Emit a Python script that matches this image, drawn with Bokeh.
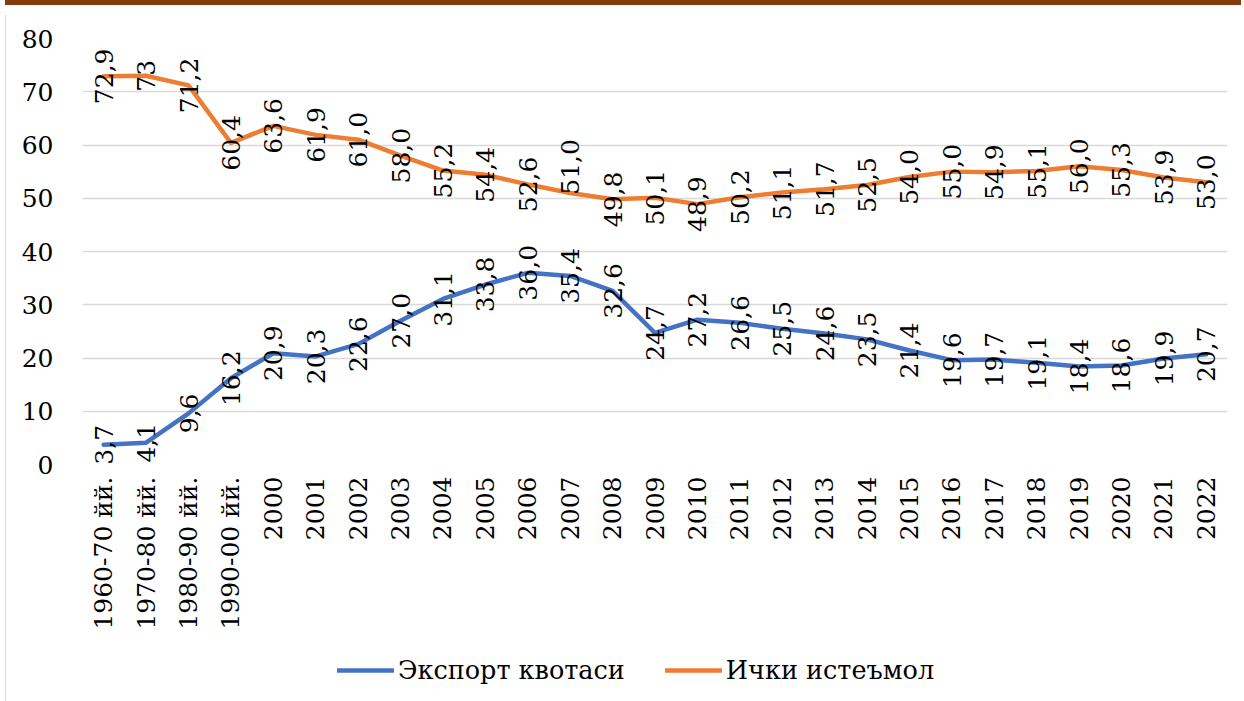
from math import pi
from bokeh.plotting import figure
from bokeh.models import (ColumnDataSource, FactorRange, Legend, LegendItem,
                          Div, FixedTicker)
from bokeh.layouts import column, row
from bokeh.core.properties import value
from bokeh.embed import file_html
from bokeh.resources import INLINE

categories = ["1960-70 йй.", "1970-80 йй.", "1980-90 йй.", "1990-00 йй.",
              "2000", "2001", "2002", "2003", "2004", "2005", "2006", "2007",
              "2008", "2009", "2010", "2011", "2012", "2013", "2014", "2015",
              "2016", "2017", "2018", "2019", "2020", "2021", "2022"]

export_quota = [3.7, 4.1, 9.6, 16.2, 20.9, 20.3, 22.6, 27.0, 31.1, 33.8, 36.0,
                35.4, 32.6, 24.7, 27.2, 26.6, 25.5, 24.6, 23.5, 21.4, 19.6,
                19.7, 19.1, 18.4, 18.6, 19.9, 20.7]
export_labels = ["3,7", "4,1", "9,6", "16,2", "20,9", "20,3", "22,6", "27,0",
                 "31,1", "33,8", "36,0", "35,4", "32,6", "24,7", "27,2", "26,6",
                 "25,5", "24,6", "23,5", "21,4", "19,6", "19,7", "19,1", "18,4",
                 "18,6", "19,9", "20,7"]

domestic = [72.9, 73.0, 71.2, 60.4, 63.6, 61.9, 61.0, 58.0, 55.2, 54.4, 52.6,
            51.0, 49.8, 50.1, 48.9, 50.2, 51.1, 51.7, 52.5, 54.0, 55.0, 54.9,
            55.1, 56.0, 55.3, 53.9, 53.0]
domestic_labels = ["72,9", "73", "71,2", "60,4", "63,6", "61,9", "61,0", "58,0",
                   "55,2", "54,4", "52,6", "51,0", "49,8", "50,1", "48,9",
                   "50,2", "51,1", "51,7", "52,5", "54,0", "55,0", "54,9",
                   "55,1", "56,0", "55,3", "53,9", "53,0"]

y_ticks = [0, 10, 20, 30, 40, 50, 60, 70, 80]
series_names = ["Экспорт квотаси", "Ички истеъмол"]

# styles
BLUE = "#4472C4"
ORANGE = "#ED7D31"
FONT = "DejaVu Serif"
FS_LABEL = "25px"
FS_Y = "25px"
FS_X = "25px"
FS_LEG = "25.5px"
domestic_dy = [0] * len(domestic)
domestic_dy[categories.index("2007")] = -26

src_e = ColumnDataSource(dict(x=categories, y=export_quota, t=export_labels,
                              dy=[0] * len(export_quota)))
src_d = ColumnDataSource(dict(x=categories, y=domestic, t=domestic_labels,
                              dy=domestic_dy))

p = figure(x_range=FactorRange(factors=categories), y_range=(0, 80),
           width=1226, height=632, output_backend="svg", toolbar_location=None,
           min_border_left=71, min_border_right=10, min_border_top=28,
           min_border_bottom=178, background_fill_color="white",
           border_fill_color="white", outline_line_color=None)

r1 = p.line("x", "y", source=src_e, line_color=BLUE, line_width=4.5,
            line_join="round", line_cap="round")
r2 = p.line("x", "y", source=src_d, line_color=ORANGE, line_width=4.5,
            line_join="round", line_cap="round")

for s in (src_e, src_d):
    p.text("x", "y", text="t", source=s, angle=pi / 2, y_offset="dy",
           text_align="center", text_baseline="middle",
           text_font=value(FONT), text_font_size=FS_LABEL, text_color="black")

p.xgrid.grid_line_color = None
p.ygrid.grid_line_color = "#d9d9d9"
p.ygrid.grid_line_width = 1.5
p.yaxis.ticker = FixedTicker(ticks=y_ticks)

for ax, fs in ((p.xaxis[0], FS_X), (p.yaxis[0], FS_Y)):
    ax.axis_line_color = None
    ax.major_tick_line_color = None
    ax.minor_tick_line_color = None
    ax.major_tick_out = 0
    ax.major_tick_in = 0
    ax.major_label_text_font = FONT
    ax.major_label_text_font_size = fs
    ax.major_label_text_color = "black"

p.yaxis.major_label_standoff = 29
p.xaxis.major_label_standoff = 12
p.xaxis.major_label_orientation = pi / 2

# legend lives in its own strip below the chart
lg = figure(width=1226, height=61, output_backend="svg", toolbar_location=None,
            min_border=0, x_range=(0, 1), y_range=(0, 1),
            x_axis_type=None, y_axis_type=None,
            outline_line_color=None, background_fill_color="white",
            border_fill_color="white")
lg.grid.visible = False
nan = float("nan")
l1 = lg.line([nan], [nan], line_color=BLUE, line_width=4.5, line_cap="round")
l2 = lg.line([nan], [nan], line_color=ORANGE, line_width=4.5, line_cap="round")
legend = Legend(items=[LegendItem(label=series_names[0], renderers=[l1]),
                       LegendItem(label=series_names[1], renderers=[l2])],
                orientation="horizontal", location=(255, 18),
                label_text_font=FONT, label_text_font_size=FS_LEG,
                label_text_color="black", glyph_width=57, glyph_height=20,
                label_standoff=4, spacing=40, padding=0, margin=0,
                border_line_color=None, background_fill_alpha=0)
lg.add_layout(legend, "center")

bar = Div(width=1236, height=8, styles={"background-color": "#843C0C"})
edge = Div(width=1, height=693, styles={"background-color": "#d9d9d9"})

layout = column(bar, row(edge, column(p, lg, spacing=0), spacing=0),
                spacing=0, styles={"margin-top": "-8px"})

open("out.html", "w").write(file_html(layout, INLINE))
